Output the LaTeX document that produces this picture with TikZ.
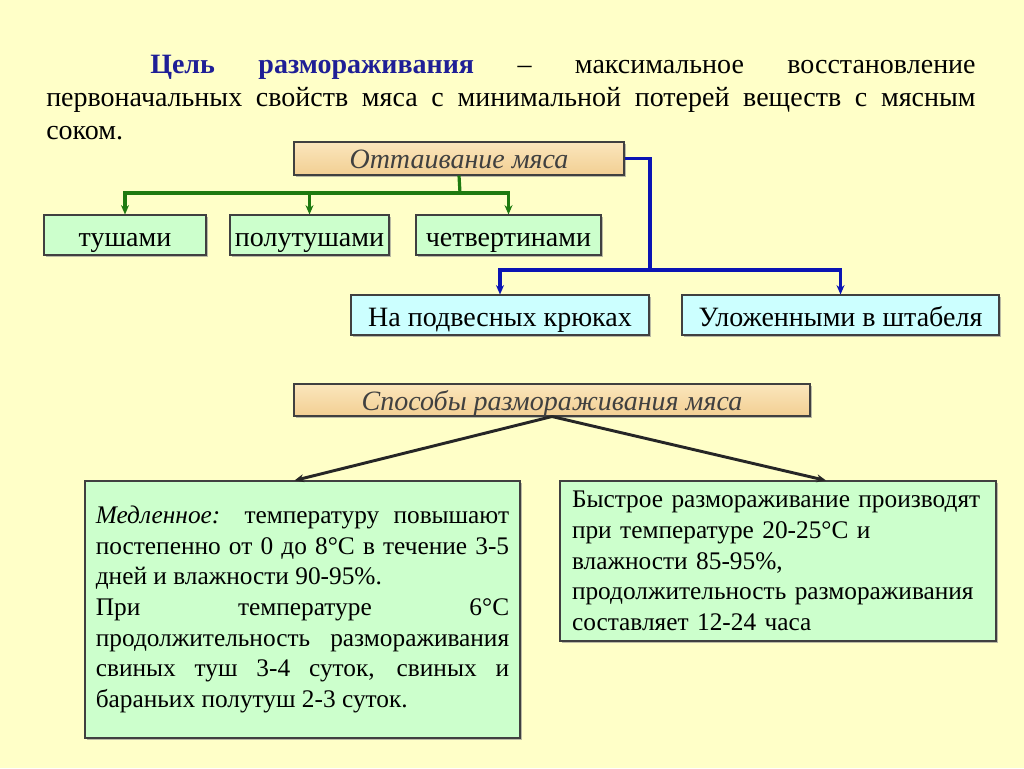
\documentclass[tikz,border=0pt]{standalone}
\usepackage{fontspec}
\setmainfont{Liberation Serif}
\usetikzlibrary{arrows.meta,positioning,shadows}
\definecolor{paper}{HTML}{FFFFC8}
\definecolor{tanlight}{HTML}{FBE6BC}
\definecolor{tandark}{HTML}{F2CF93}
\definecolor{mint}{HTML}{CCFFCC}
\definecolor{icy}{HTML}{CCFFFF}
\definecolor{navy}{HTML}{1F1F96}
\definecolor{leaf}{HTML}{1E7A10}
\definecolor{cobalt}{HTML}{0A14B4}
\hyphenpenalty=10000
\exhyphenpenalty=10000
\tikzset{
  box/.style={draw=black!75, line width=0.8pt, inner sep=0pt,
    drop shadow={shadow xshift=1.2pt, shadow yshift=-1.2pt, fill=black!45, opacity=0.6}},
  labelbox/.style={box, font=\fontsize{21}{23}\selectfont, text height=17.5pt, text depth=1pt},
  tanbox/.style={labelbox, top color=tanlight, bottom color=tandark, font=\fontsize{21}{23}\selectfont\itshape,
    text=black!75, text height=16pt},
  greenbox/.style={labelbox, fill=mint},
  cyanbox/.style={labelbox, fill=icy},
  notebox/.style={box, fill=mint, font=\fontsize{19}{23}\selectfont},
  greenarrow/.style={draw=leaf, line width=2.4pt, -{Stealth[length=7pt,width=6pt]}},
  bluearrow/.style={draw=cobalt, line width=2.6pt, -{Stealth[length=7pt,width=6pt]}},
  blackarrow/.style={draw=black!85, line width=2.2pt, -{Stealth[length=7pt,width=6pt]}}
}
\begin{document}
\begin{tikzpicture}[x=0.75pt,y=-0.75pt]
\fill[paper] (0,0) rectangle (1024,768);
\useasboundingbox (0,0) rectangle (1024,768);

% goal paragraph
\node[anchor=north west, inner sep=0pt, text width=697pt, align=justify,
  font=\fontsize{21}{24.75}\selectfont] (goal) at (46,55)
  {\hspace*{78pt}\textcolor{navy}{\textbf{Цель размораживания}} – максимальное восстановление\linebreak
   первоначальных свойств мяса с минимальной потерей веществ с мясным\linebreak
   соком.};

% thawing
\node[tanbox, minimum width=247.5pt, minimum height=24.75pt] (thaw) at (459,158.5) {Оттаивание мяса};
\node[greenbox, minimum width=121.5pt, minimum height=30pt] (carcass) at (125,235) {тушами};
\node[greenbox, minimum width=119.25pt, minimum height=30pt] (half) at (309.5,235) {полутушами};
\node[greenbox, minimum width=138.75pt, minimum height=30pt] (quarter) at (508.5,235) {четвертинами};
\node[cyanbox, minimum width=223.5pt, minimum height=30pt] (hooks) at (500,315) {На подвесных крюках};
\node[cyanbox, minimum width=237.75pt, minimum height=30pt] (stacks) at (840.5,315) {Уложенными в штабеля};

\coordinate (gj) at (460,193);
\coordinate (bj) at (650,270);
\draw[leaf, line width=2.4pt] (thaw.south) -- (gj);
\draw[greenarrow] (gj) -| (carcass.north);
\draw[greenarrow] (gj) -| (half.north);
\draw[greenarrow] (gj) -| (quarter.north);
\draw[cobalt, line width=2.6pt] (thaw.east) -| (bj);
\draw[bluearrow] (bj) -| (hooks.north);
\draw[bluearrow] (bj) -| (stacks.north);

% methods
\node[tanbox, minimum width=387pt, minimum height=24pt] (methods) at (552,400) {Способы размораживания мяса};
\node[notebox, minimum width=326.25pt, minimum height=192.75pt, text width=310pt, align=justify] (slow) at (302.5,609.5)
  {\textit{Медленное:} температуру повышают\linebreak
   постепенно от 0 до 8°C в течение 3-5\linebreak
   дней и влажности 90-95\%.\par
   При температуре 6°C\linebreak
   продолжительность размораживания\linebreak
   свиных туш 3-4 суток, свиных и\linebreak
   бараньих полутуш 2-3 суток.};
\node[notebox, minimum width=327pt, minimum height=120pt, text width=309pt, align=left] (fast) at (778,561)
  {Быстрое размораживание производят\\
   при температуре 20-25°C и\\
   влажности 85-95\%,\\
   продолжительность размораживания\\
   составляет 12-24 часа};

\draw[blackarrow] (methods.south) -- ([xshift=-6pt]slow.north);
\draw[blackarrow] (methods.south) -- ([xshift=36pt]fast.north);
\end{tikzpicture}
\end{document}
